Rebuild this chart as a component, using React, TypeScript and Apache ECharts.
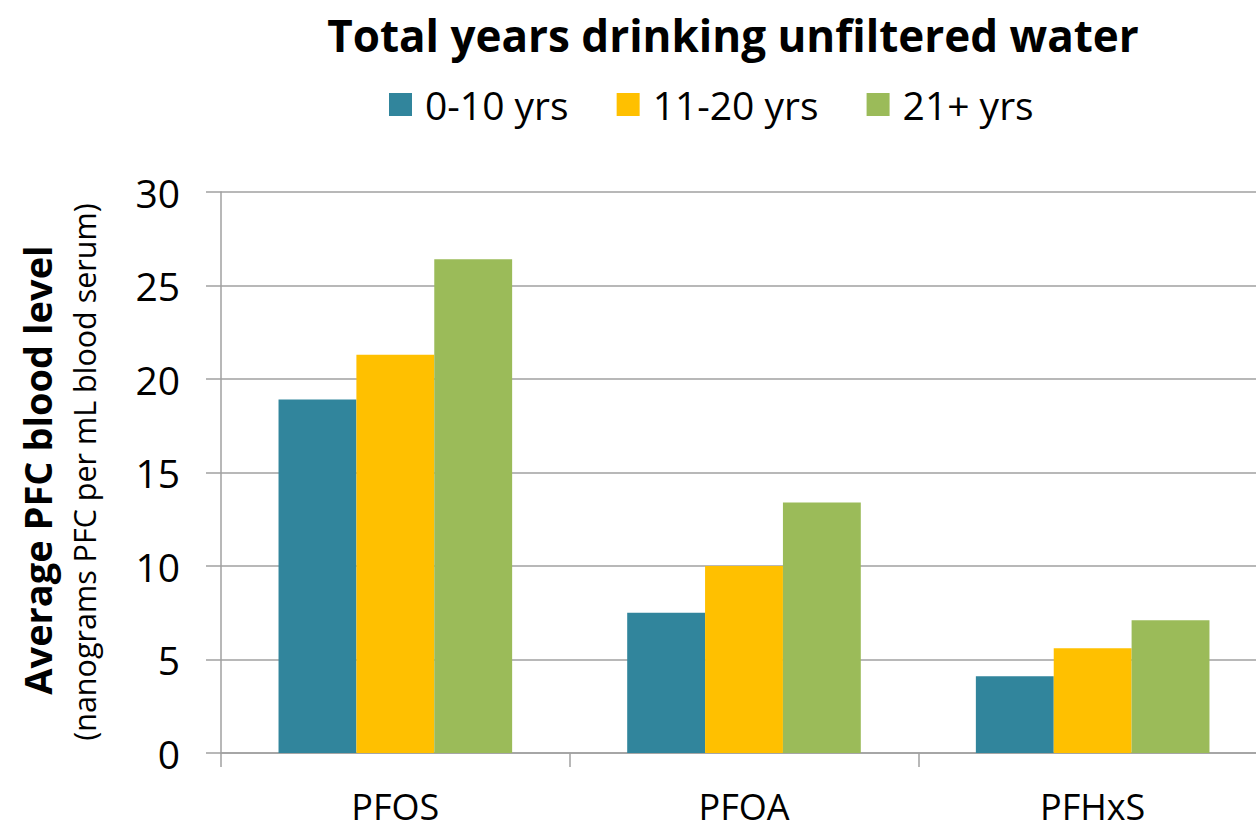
import React, { useEffect, useRef } from "react";
import * as echarts from "echarts";

const categories = ["PFOS", "PFOA", "PFHxS"];
const seriesNames = ["0-10 yrs", "11-20 yrs", "21+ yrs"];
const v0to10 = [18.9, 7.5, 4.1];
const v11to20 = [21.3, 10.0, 5.6];
const v21plus = [26.4, 13.4, 7.1];
const colors = ["#31859C", "#FFC000", "#9BBB59"];

const FONT = "'Open Sans', 'Noto Sans', sans-serif";

export default function App() {
  const ref = useRef<HTMLDivElement>(null);
  useEffect(() => {
    if (!ref.current) return;
    const chart = echarts.init(ref.current, undefined, { renderer: "svg" });
    const values = [v0to10, v11to20, v21plus];
    chart.setOption({
      animation: false,
      backgroundColor: "#ffffff",
      title: {
        text: "Total years drinking unfiltered water",
        left: 728,
        textAlign: "center",
        top: 8,
        textStyle: { fontFamily: FONT, fontWeight: "bold", fontSize: 44, color: "#000" },
      },
      legend: {
        top: 80,
        left: 384,
        itemWidth: 23,
        itemHeight: 23,
        itemGap: 48,
        icon: "rect",
        textStyle: { fontFamily: FONT, fontSize: 39, color: "#000", padding: [0, 0, 0, 8] },
        data: seriesNames,
      },
      grid: {
        left: 221,
        width: 1046,
        top: 192,
        bottom: 77,
        containLabel: false,
        outerBoundsMode: "none",
      },
      xAxis: {
        type: "category",
        data: categories,
        axisLine: { show: true, lineStyle: { color: "#a0a0a0", width: 1.5 } },
        axisTick: { show: true, length: 14, alignWithLabel: false, lineStyle: { color: "#a0a0a0", width: 1.5 } },
        axisLabel: { fontFamily: FONT, fontSize: 36, lineHeight: 36, color: "#000", margin: 35 },
      },
      yAxis: {
        type: "value",
        min: 0,
        max: 30,
        interval: 5,
        axisLine: { show: true, lineStyle: { color: "#a0a0a0", width: 1.5 } },
        axisTick: { show: true, length: 15, lineStyle: { color: "#a0a0a0", width: 1.5 } },
        splitLine: { show: true, lineStyle: { color: "#a0a0a0", width: 1.5 } },
        axisLabel: { fontFamily: FONT, fontSize: 39, color: "#000", margin: 41 },
      },
      graphic: [
        {
          type: "text",
          x: 37,
          y: 470,
          rotation: Math.PI / 2,
          style: {
            text: "Average PFC blood level",
            fontFamily: FONT,
            fontWeight: "bold",
            fontSize: 38,
            fill: "#000",
            textAlign: "center",
            textVerticalAlign: "middle",
          },
        },
        {
          type: "text",
          x: 84,
          y: 472,
          rotation: Math.PI / 2,
          style: {
            text: "(nanograms PFC per mL blood serum)",
            fontFamily: FONT,
            fontSize: 30.5,
            fill: "#000",
            textAlign: "center",
            textVerticalAlign: "middle",
          },
        },
      ],
      series: seriesNames.map((name, i) => ({
        name,
        type: "bar",
        data: values[i],
        barGap: "0%",
        barCategoryGap: "33%",
        itemStyle: { color: colors[i] },
      })),
    });
    return () => chart.dispose();
  }, []);
  return (
    <div
      ref={ref}
      style={{ position: "absolute", left: 0, top: 0, width: 1256, height: 830, overflow: "hidden" }}
    />
  );
}
